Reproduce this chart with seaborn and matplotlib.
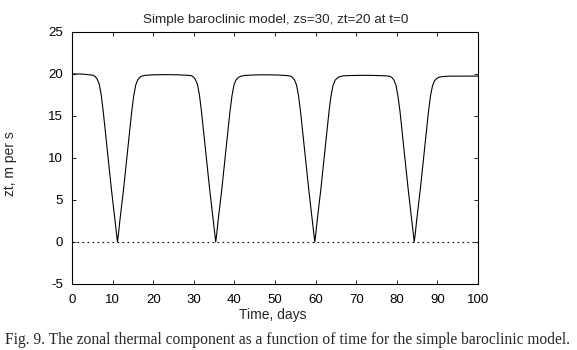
import matplotlib
matplotlib.use("Agg")
import matplotlib.pyplot as plt
import seaborn as sns
import pandas as pd

title = "Simple baroclinic model, zs=30, zt=20 at t=0"
xlabel = "Time, days"
ylabel = "zt, m per s"
caption = "Fig. 9. The zonal thermal component as a function of time for the simple baroclinic model."

xticks = [0, 10, 20, 30, 40, 50, 60, 70, 80, 90, 100]
yticks = [-5, 0, 5, 10, 15, 20, 25]

time_days = [
    0.0, 1.0, 2.0, 3.0,
    4.2, 5.2, 5.7, 6.2, 6.7, 7.2, 7.7, 8.2, 8.7, 9.2, 9.7, 10.2, 10.6, 10.9, 11.2,
    11.5, 11.8, 12.2, 12.7, 13.2, 13.7, 14.2, 14.7, 15.2, 15.7, 16.2, 16.7, 17.2, 18.2,
    20.0, 22.0, 24.0, 26.0,
    28.4, 29.4, 29.9, 30.4, 30.9, 31.4, 31.9, 32.4, 32.9, 33.4, 33.9, 34.4, 34.8, 35.1, 35.4,
    35.7, 36.0, 36.4, 36.9, 37.4, 37.9, 38.4, 38.9, 39.4, 39.9, 40.4, 40.9, 41.4, 42.4,
    44.5, 46.5, 48.5, 50.5,
    52.8, 53.8, 54.3, 54.8, 55.3, 55.8, 56.3, 56.8, 57.3, 57.8, 58.3, 58.8, 59.2, 59.5, 59.8,
    60.1, 60.4, 60.8, 61.3, 61.8, 62.3, 62.8, 63.3, 63.8, 64.3, 64.8, 65.3, 65.8, 66.8,
    69.0, 71.0, 73.0, 75.0,
    77.3, 78.3, 78.8, 79.3, 79.8, 80.3, 80.8, 81.3, 81.8, 82.3, 82.8, 83.3, 83.7, 84.0, 84.3,
    84.6, 84.9, 85.3, 85.8, 86.3, 86.8, 87.3, 87.8, 88.3, 88.8, 89.3, 89.8, 90.3, 91.3,
    93.0, 95.0, 97.0, 99.0, 100.0,
]

zt_values = [
    20.0, 20.0, 20.0, 19.97,
    19.9, 19.85, 19.7, 19.4, 18.8, 17.5, 15.5, 13.2, 10.8, 8.6, 6.3, 4.2, 2.6, 1.2, 0.0,
    1.2, 2.6, 4.2, 6.3, 8.6, 10.8, 13.2, 15.5, 17.4, 18.7, 19.3, 19.6, 19.75, 19.85,
    19.9, 19.92, 19.92, 19.9,
    19.85, 19.8, 19.65, 19.35, 18.75, 17.45, 15.5, 13.2, 10.8, 8.6, 6.3, 4.2, 2.6, 1.2, 0.0,
    1.2, 2.6, 4.2, 6.3, 8.6, 10.8, 13.2, 15.5, 17.4, 18.7, 19.3, 19.55, 19.7, 19.82,
    19.88, 19.9, 19.9, 19.88,
    19.82, 19.75, 19.6, 19.3, 18.7, 17.4, 15.5, 13.2, 10.8, 8.6, 6.3, 4.2, 2.6, 1.2, 0.0,
    1.2, 2.6, 4.2, 6.3, 8.6, 10.8, 13.2, 15.5, 17.4, 18.65, 19.25, 19.5, 19.65, 19.78,
    19.82, 19.84, 19.84, 19.82,
    19.78, 19.72, 19.58, 19.28, 18.65, 17.35, 15.5, 13.2, 10.8, 8.6, 6.3, 4.2, 2.6, 1.2, 0.0,
    1.2, 2.6, 4.2, 6.3, 8.6, 10.8, 13.2, 15.5, 17.4, 18.6, 19.2, 19.45, 19.6, 19.7,
    19.74, 19.75, 19.75, 19.75, 19.75,
]

zero_x = [0, 100]
zero_y = [0, 0]

df = pd.DataFrame({"t": time_days, "zt": zt_values})

sns.set_style("ticks")
plt.rcParams["font.family"] = ["Liberation Sans", "DejaVu Sans"]
plt.rcParams["axes.unicode_minus"] = False

fig = plt.figure(figsize=(5.77, 3.5), dpi=100)
ax = fig.add_axes([0.1248, 0.1886, 0.7036, 0.72])

sns.lineplot(data=df, x="t", y="zt", ax=ax, color="black", linewidth=0.8, sort=False)
ax.plot(zero_x, zero_y, color="black", linestyle=(0, (1.5, 3)), linewidth=0.8)

ax.set_xlim(0, 100)
ax.set_ylim(-5, 25)
ax.set_xticks(xticks)
ax.set_yticks(yticks)
ax.tick_params(direction="in", length=3, width=0.6, top=True, right=True,
               labelsize=9.5, colors="black")
ax.tick_params(axis="y", pad=6.5)
ax.tick_params(axis="x", pad=7)
for s in ax.spines.values():
    s.set_linewidth(0.8)
    s.set_color("black")

ax.set_title(title, fontsize=9.7, y=1 + 12 / 252, va="center", pad=0)
ax.title.set_x(0.502)
ax.set_xlabel(xlabel, fontsize=10)
ax.xaxis.set_label_coords(0.495, -0.123)
ax.xaxis.label.set_va("center")
ax.set_ylabel(ylabel, fontsize=10)
ax.yaxis.set_label_coords(-0.153, 0.476)
ax.yaxis.label.set_va("center")

fig.text(287.5 / 577, 10 / 350, caption, ha="center", va="center", fontsize=11.2,
         family=["Liberation Serif", "DejaVu Serif"])

fig.savefig("out.png", dpi=100)
